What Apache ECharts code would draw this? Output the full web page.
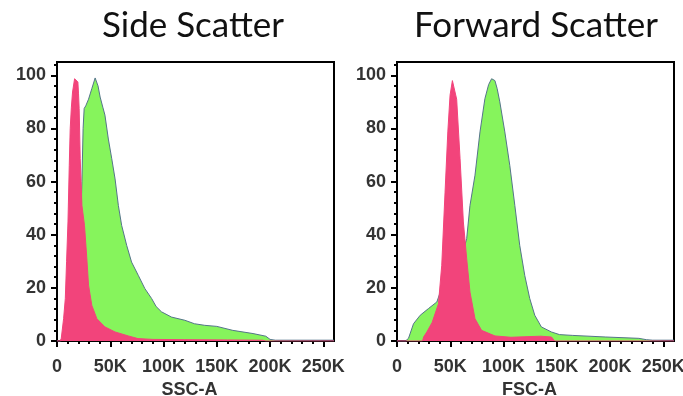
<!DOCTYPE html>
<html>
<head>
<meta charset="utf-8">
<script src="https://cdn.jsdelivr.net/npm/echarts@6/dist/echarts.min.js"></script>
<style>
  html, body { margin: 0; padding: 0; background: #fff; }
  #chart { width: 683px; height: 396px; }
</style>
</head>
<body>
<div id="chart"></div>
<script>
const titles = ['Side Scatter', 'Forward Scatter'];
const axisNames = ['SSC-A', 'FSC-A'];
const xTicks = [0, 50, 100, 150, 200, 250];
const yTicks = [0, 20, 40, 60, 80, 100];

// x in thousands (K), y = % of max
const sscPink = [[0,0],[3,0],[4,1],[6.2,8.4],[7.8,16],[9,30],[10.3,44.8],[11.5,66],[12.4,80],[13.5,88],[14.6,93.7],[16.5,98.7],[18,98.5],[19.6,97.5],[20.2,93],[20.8,87.5],[21.8,68.6],[23.4,51],[25.8,43.5],[28,31],[29.6,21],[32.7,13.4],[37.4,8.4],[45,5.3],[54.5,3.4],[67,1.9],[76,0.9],[90,0.6],[120,0.5],[160,0.4],[193,0.3],[196,0],[260,0]];
const sscGreen = [[0,0],[4,0],[8,3],[12,8],[16,15],[20,25],[22,40],[23.4,60],[24.5,80],[25.5,87.5],[27,88.5],[29.6,91],[32.7,95],[35.8,99],[37,99],[38.5,96],[40.5,91.8],[43,88],[45,85],[48.2,76],[51.4,68.6],[54.5,61],[57.6,51],[60.7,43.5],[65.4,36],[70,29.7],[76.3,24.7],[82.5,19.7],[88.8,16],[93,13],[98,11],[107.5,9],[120,7.8],[129,6.5],[138.6,5.9],[150,5.5],[165,4],[184,2.8],[196,1.8],[200,0.6],[205,0.3],[260,0.3]];
const fscPink = [[0,0],[24,0],[25,1.5],[28,3.4],[33,7],[38.9,14],[42,28.5],[45.1,56],[47.7,78.7],[49.8,92.5],[52,98],[53.5,98.7],[56,91],[59.2,68.6],[62.3,44.8],[65.4,31],[68.5,18.4],[73.2,8.4],[79.4,4],[92,1.9],[107,1.4],[120,1.6],[135,1.8],[145,1.5],[148,0],[260,0]];
const fscGreen = [[0,0],[8,0],[10.8,1],[15.5,6.5],[21.8,9.7],[29.5,12.2],[37.4,14.7],[42,20],[50,25],[58,30],[63,35],[65.4,38.5],[68.5,51],[73.2,62.4],[77.9,78.7],[82.5,91.2],[86,96.5],[88.8,98.7],[91.9,98],[94,95],[96.5,90],[101.2,78.7],[105.9,66],[110.6,51],[115.2,36],[119.9,24.7],[124.6,16],[129.3,9.7],[135.5,5.3],[144.9,3.4],[152.6,2.4],[165,2.1],[196,1.5],[227,1],[234,0.5],[240,0.3],[260,0.3]];

const pinkColor = '#f2447b';
const greenColor = '#86f45c';
const labelFont = {color: '#333', fontSize: 18, fontWeight: 'bold', fontFamily: 'Liberation Sans'};

const gridLeft = [57, 397];
const titleCenter = [188, 531];
let grids = [], xAxes = [], yAxes = [], titleList = [];
for (let i = 0; i < 2; i++) {
  grids.push({
    left: gridLeft[i], top: 62, width: 277, height: 279, outerBoundsMode: 'none',
    show: true, borderColor: '#000', borderWidth: 2, backgroundColor: '#fff'
  });
  titleList.push({
    text: titles[i], left: titleCenter[i], top: 3, textAlign: 'center',
    textStyle: {fontFamily: 'Lato', fontWeight: 'normal', fontSize: 35, color: '#111'}
  });
  xAxes.push({
    gridIndex: i, type: 'value', min: 0, max: 260, interval: 50,
    name: axisNames[i], nameLocation: 'middle', nameGap: 34,
    nameTextStyle: Object.assign({padding: [0, 12, 0, 0]}, labelFont),
    axisLine: {lineStyle: {color: '#000', width: 2}},
    axisTick: {customValues: xTicks, length: 6, lineStyle: {color: '#000', width: 2}},
    minorTick: {show: true, splitNumber: 5, length: 3, lineStyle: {color: '#000', width: 2}},
    axisLabel: Object.assign({customValues: xTicks, margin: 17, formatter: v => v === 0 ? '0' : v + 'K'}, labelFont),
    splitLine: {show: false}
  });
  yAxes.push({
    gridIndex: i, type: 'value', min: 0, max: 105, interval: 20,
    axisLine: {show: true, lineStyle: {color: '#000', width: 2}},
    axisTick: {show: true, customValues: yTicks, length: 6, lineStyle: {color: '#000', width: 2}},
    minorTick: {show: true, splitNumber: 5, length: 3, lineStyle: {color: '#000', width: 2}},
    axisLabel: Object.assign({customValues: yTicks, margin: 11}, labelFont),
    splitLine: {show: false}
  });
}

function hist(idx, data, color, edge, z) {
  return {
    type: 'line', xAxisIndex: idx, yAxisIndex: idx, data: data, z: z,
    showSymbol: false, smooth: false, animation: false,
    lineStyle: {color: edge, width: 1},
    areaStyle: {color: color, opacity: 1}
  };
}

const option = {
  backgroundColor: '#fff',
  title: titleList,
  grid: grids,
  xAxis: xAxes,
  yAxis: yAxes,
  series: [
    hist(0, sscGreen, greenColor, '#55748a', 2),
    hist(0, sscPink, pinkColor, pinkColor, 3),
    hist(1, fscGreen, greenColor, '#55748a', 2),
    hist(1, fscPink, pinkColor, pinkColor, 3)
  ]
};

const myChart = echarts.init(document.getElementById('chart'));
myChart.setOption(option);
</script>
</body>
</html>
